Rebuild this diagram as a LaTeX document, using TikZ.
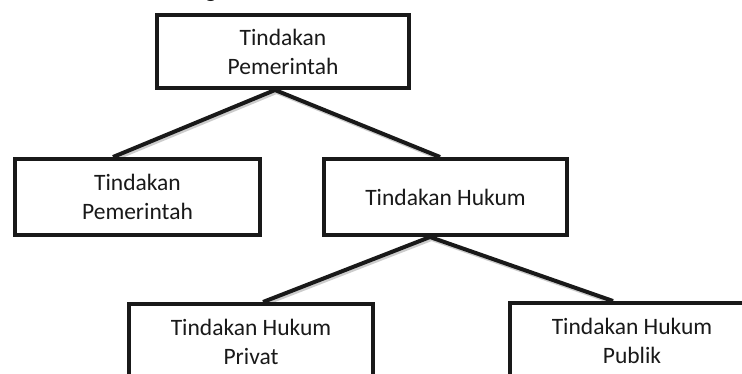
\documentclass[tikz,border=0pt]{standalone}
\usepackage{fontspec}
\setmainfont{Carlito}
\usetikzlibrary{backgrounds}
\begin{document}
\begin{tikzpicture}[x=1pt,y=-1pt,
  box/.style={draw=black!90, line width=4pt, fill=white, align=center,
    font=\fontsize{23.5}{29}\selectfont, text=black!90, inner sep=0pt},
  conn/.style={line width=4pt, draw=black!90, line join=round},
  connshadow/.style={line width=4pt, draw=black!20, line join=round}]
\useasboundingbox (0,0) rectangle (742,373);
\node[font=\fontsize{23.5}{29}\selectfont, text=black!90, anchor=base, inner sep=0pt] (g) at (211,-2.5) {g};
\node[box, minimum width=252pt, minimum height=73pt] (top) at (283,51.5) {Tindakan\\Pemerintah};
\node[box, minimum width=245pt, minimum height=76pt] (left) at (137.5,197) {Tindakan\\Pemerintah};
\node[box, minimum width=243pt, minimum height=76pt] (mid) at (445.5,197) {Tindakan Hukum};
\node[box, minimum width=244pt, minimum height=76pt] (priv) at (251,342) {Tindakan Hukum\\Privat};
\node[box, minimum width=244pt, minimum height=76pt] (pub) at (632,341) {Tindakan Hukum\\Publik};
\begin{scope}[on background layer]
  \coordinate (tv) at ([xshift=-8pt]top.south);
  \coordinate (mv) at ([xshift=-15.5pt]mid.south);
  \coordinate (le) at ([xshift=-24.5pt]left.north);
  \coordinate (me) at ([xshift=-5.5pt]mid.north);
  \coordinate (pe) at ([xshift=12pt]priv.north);
  \coordinate (ue) at ([xshift=-19pt]pub.north);
  \draw[connshadow, transform canvas={shift={(1.5pt,-2pt)}}] (le) -- (tv) -- (me);
  \draw[connshadow, transform canvas={shift={(1.5pt,-2pt)}}] (pe) -- (mv) -- (ue);
  \draw[conn] (le) -- (tv) -- (me);
  \draw[conn] (pe) -- (mv) -- (ue);
\end{scope}
\end{tikzpicture}
\end{document}
